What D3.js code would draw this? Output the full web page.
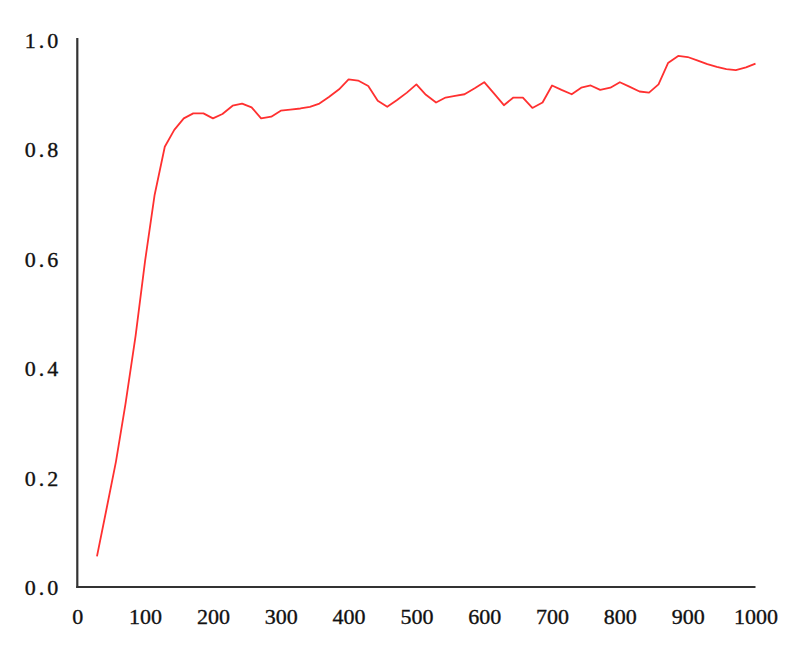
<!DOCTYPE html>
<html>
<head>
<meta charset="utf-8">
<script src="https://cdn.jsdelivr.net/npm/d3@7"></script>
<style>
  html, body { margin: 0; padding: 0; background: #fff; }
  svg { display: block; }
  .tick text { font-family: "Liberation Serif", "DejaVu Serif", serif; fill: #111; stroke: #111; stroke-width: 0.35px; }
</style>
</head>
<body>
<svg id="chart" width="803" height="650"></svg>
<script>
const xValues = [29, 43, 57, 71, 86, 100, 114, 129, 143, 157, 171, 186, 200, 214, 229, 243, 257, 271, 286, 300,
  314, 329, 343, 357, 371, 386, 400, 414, 429, 443, 457, 471, 486, 500, 514, 529, 543, 557, 571, 586,
  600, 614, 629, 643, 657, 671, 686, 700, 714, 729, 743, 757, 771, 786, 800, 814, 829, 843, 857, 871,
  886, 900, 914, 929, 943, 957, 971, 986, 1000];
const yValues = [0.056, 0.142, 0.229, 0.334, 0.459, 0.596, 0.716, 0.804, 0.835, 0.856, 0.865, 0.865, 0.856, 0.864, 0.879, 0.883, 0.876, 0.856, 0.859, 0.870,
  0.872, 0.874, 0.877, 0.883, 0.895, 0.909, 0.927, 0.925, 0.915, 0.888, 0.877, 0.889, 0.903, 0.918, 0.899, 0.885, 0.894, 0.897, 0.900, 0.911,
  0.922, 0.902, 0.880, 0.894, 0.894, 0.875, 0.885, 0.916, 0.908, 0.900, 0.912, 0.916, 0.908, 0.912, 0.922, 0.914, 0.905, 0.903, 0.918, 0.957,
  0.970, 0.968, 0.962, 0.955, 0.950, 0.946, 0.944, 0.949, 0.956];
const xTicks = [0, 100, 200, 300, 400, 500, 600, 700, 800, 900, 1000];
const yTicks = [0.0, 0.2, 0.4, 0.6, 0.8, 1.0];

const svg = d3.select("#chart");
const plotLeft = 77.3, plotRight = 755.5, plotTop = 39.5, plotBottom = 587;

const x = d3.scaleLinear().domain([0, 1000]).range([plotLeft, plotRight]);
const y = d3.scaleLinear().domain([0, 1]).range([plotBottom, plotTop]);

const data = xValues.map((v, i) => ({ x: v, y: yValues[i] }));

// axes
const xAxis = svg.append("g")
  .attr("transform", `translate(0,${plotBottom})`)
  .call(d3.axisBottom(x).tickValues(xTicks).tickSize(0).tickPadding(21).tickFormat(d3.format("d")));
xAxis.select(".domain").attr("stroke", "#333").attr("stroke-width", 2.2).attr("d", `M${plotLeft - 1},0H${plotRight}`);
xAxis.selectAll(".tick text").attr("font-size", 22).attr("dy", "0.71em");

const yAxis = svg.append("g")
  .attr("transform", `translate(${plotLeft},0)`)
  .call(d3.axisLeft(y).tickValues(yTicks).tickSize(0).tickPadding(16).tickFormat(d3.format(".1f")));
yAxis.select(".domain").attr("stroke", "#333").attr("stroke-width", 2.2).attr("d", `M0,${plotTop - 1.5}V${plotBottom + 1}`);
yAxis.selectAll(".tick text").attr("font-size", 22).attr("letter-spacing", "3px").attr("dy", "0.36em");

// line
const line = d3.line().x(d => x(d.x)).y(d => y(d.y));
svg.append("path")
  .datum(data)
  .attr("fill", "none")
  .attr("stroke", "#ff3030")
  .attr("stroke-width", 1.8)
  .attr("stroke-linejoin", "round")
  .attr("d", line);
</script>
</body>
</html>
